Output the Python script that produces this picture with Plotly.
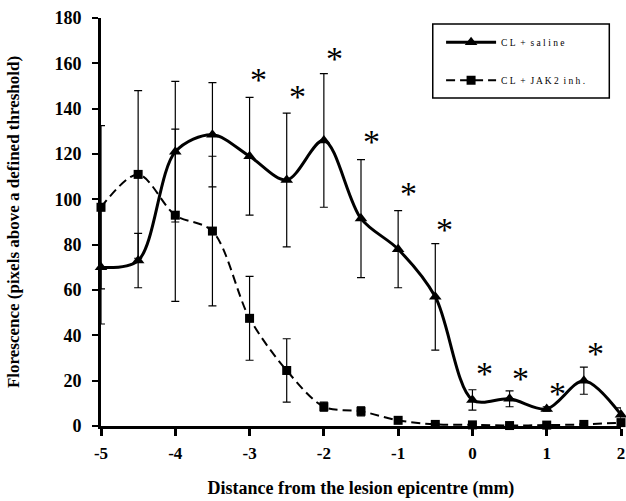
import plotly.graph_objects as go

# Data
distance = [-5, -4.5, -4, -3.5, -3, -2.5, -2, -1.5, -1, -0.5, 0, 0.5, 1, 1.5, 2]
saline = [70, 73, 121, 128.5, 119, 108.5, 126, 91.5, 78, 57, 11.5, 12, 7.5, 20, 5]
saline_err = [25, 12, 31, 23, 26, 29.5, 29.5, 26, 17, 23.5, 4.5, 3.5, 1, 6, 3]
jak2 = [96.5, 111, 93, 86, 47.5, 24.5, 8.5, 6.5, 2.5, 0.7, 0.5, 0.2, 0.4, 0.7, 1.5]
jak2_err = [36, 37, 38, 33, 18.5, 14, 2, 2, 1, 0.5, 0.5, 0.3, 0.3, 0.5, 0.8]
sig_x = [-2.88, -2.36, -1.86, -1.36, -0.86, -0.37, 0.16, 0.65, 1.14, 1.65]
sig_y = [153, 145.5, 162, 125.5, 102.5, 86.5, 23, 21, 14.5, 32]
x_ticks = [-5, -4, -3, -2, -1, 0, 1, 2]
y_ticks = list(range(0, 181, 20))

SERIF = "Liberation Serif"
NB = "\u00a0"

fig = go.Figure()

fig.add_trace(go.Scatter(
    x=distance, y=jak2, mode="lines+markers",
    name=f"C L{NB}{NB}+{NB}{NB}J A K 2{NB}{NB}i n h .",
    legendgroup="b", legendrank=2,
    line=dict(color="black", width=2, dash="9px,5px", shape="spline", smoothing=0.9),
    marker=dict(symbol="square", size=9, color="black"),
    error_y=dict(type="data", array=jak2_err, visible=True, color="black", thickness=1.2, width=4),
    cliponaxis=False,
))
fig.add_trace(go.Scatter(
    x=distance, y=saline, mode="lines+markers",
    name=f"C L{NB}{NB}+{NB}{NB}s a l i n e",
    legendgroup="a", legendrank=1,
    line=dict(color="black", width=3, shape="spline", smoothing=0.9),
    marker=dict(symbol="triangle-up", size=11, color="black"),
    error_y=dict(type="data", array=saline_err, visible=True, color="black", thickness=1.2, width=4),
    cliponaxis=False,
))

for sx, sy in zip(sig_x, sig_y):
    fig.add_annotation(x=sx, y=sy, text="*", showarrow=False,
                       font=dict(family=SERIF, size=34, color="black"),
                       xanchor="center", yanchor="middle", yshift=0)

# legend frame
fig.add_shape(type="rect", xref="paper", yref="paper",
              x0=0.638, x1=0.9775, y0=0.804, y1=0.985,
              line=dict(color="black", width=1.5), fillcolor="rgba(0,0,0,0)")

fig.update_layout(
    width=626, height=501,
    margin=dict(l=101, r=5, t=18, b=75),
    paper_bgcolor="white", plot_bgcolor="white",
    showlegend=True,
    legend=dict(
        x=0.654, y=0.976, xanchor="left", yanchor="top",
        borderwidth=0, bgcolor="rgba(0,0,0,0)",
        font=dict(family=SERIF, size=9.5, color="black"),
        traceorder="grouped", tracegroupgap=19,
        itemwidth=50,
    ),
    xaxis=dict(
        range=[-5, 2], tickvals=x_ticks, ticktext=[str(v) for v in x_ticks],
        automargin=False,
        showgrid=False, zeroline=False, showline=True, linecolor="black", linewidth=3,
        ticks="outside", ticklen=7, tickwidth=2.5, tickcolor="black",
        ticklabelstandoff=3,
        tickfont=dict(family=SERIF, size=17, color="black", weight="bold"),
        title=dict(text="Distance from the lesion epicentre (mm)", standoff=19,
                   font=dict(family=SERIF, size=18, color="black", weight="bold")),
    ),
    yaxis=dict(
        range=[0, 180], tickvals=y_ticks,
        automargin=False,
        showgrid=False, zeroline=False, showline=True, linecolor="black", linewidth=3,
        ticks="outside", ticklen=6, tickwidth=2, tickcolor="black",
        ticklabelstandoff=7,
        tickfont=dict(family=SERIF, size=18, color="black", weight="bold"),
        title=dict(text="Florescence (pixels above a defined threshold)", standoff=31,
                   font=dict(family=SERIF, size=17, color="black", weight="bold")),
    ),
)

fig.write_html("out.html", config={"displayModeBar": False},
               post_script="document.body.style.margin='0';document.body.style.overflow='hidden';")
